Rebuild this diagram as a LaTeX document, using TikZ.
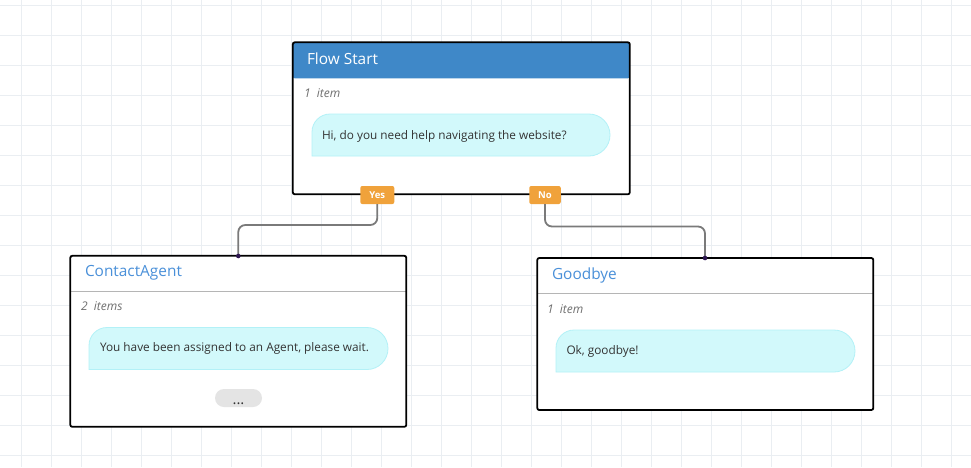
\documentclass[tikz,border=0pt]{standalone}
\usepackage{fontspec}
\setmainfont{Open Sans}
\definecolor{gridc}{HTML}{EAEEF2}
\definecolor{hdr}{HTML}{3F88C8}
\definecolor{ttl}{HTML}{4A90D9}
\definecolor{bubfill}{HTML}{D2F9FB}
\definecolor{bubline}{HTML}{B3F1F7}
\definecolor{tagc}{HTML}{F0A23B}
\definecolor{connc}{HTML}{7A7A7A}
\definecolor{sepc}{HTML}{B5B5B5}
\definecolor{itemc}{HTML}{707070}
\definecolor{txtc}{HTML}{333333}
\definecolor{pillc}{HTML}{E4E4E4}
\definecolor{dotc}{HTML}{2D1650}
\begin{document}
\begin{tikzpicture}[x=1pt,y=-1pt,
  gridline/.style={draw=gridc, line width=0.8pt},
  box/.style={draw=black, line width=1.8pt, rounded corners=2pt, fill=white, inner sep=0pt, outer sep=0pt},
  hdrbox/.style={box, path picture={\fill[hdr] (path picture bounding box.north west) rectangle ([yshift=-36pt]path picture bounding box.north east);}},
  sepbox/.style={box, path picture={\draw[sepc, line width=1.2pt] ([yshift=-35.7pt]path picture bounding box.north west) -- ([yshift=-35.7pt]path picture bounding box.north east);}},
  bubnode/.style={inner sep=0pt, outer sep=0pt, minimum height=42pt},
  bubble/.style={fill=bubfill, draw=bubline, line width=0.8pt},
  tag/.style={fill=tagc, rounded corners=2pt, inner sep=0pt, outer sep=0pt, minimum width=34pt, minimum height=18pt, text=white, font=\bfseries\fontsize{9.5}{10}\selectfont},
  conn/.style={draw=connc, line width=1.8pt, rounded corners=7pt},
  endpt/.style={fill=dotc},
  lbl/.style={anchor=base west, inner sep=0pt, outer sep=0pt},
  titlew/.style={lbl, text=white, font=\fontsize{15.4}{17}\selectfont},
  titleb/.style={lbl, text=ttl, font=\fontsize{15.4}{17}\selectfont},
  item/.style={lbl, text=itemc, font=\itshape\fontsize{12}{14}\selectfont},
  msg/.style={lbl, text=txtc, font=\fontsize{11.8}{14}\selectfont},
  pill/.style={fill=pillc, rounded corners=9pt, inner sep=0pt, minimum width=47pt, minimum height=18pt}
]
\useasboundingbox (0,0) rectangle (971,467);
\fill[white] (0,0) rectangle (971,467);
\foreach \x in {21,51,...,951} \draw[gridline] (\x,0) -- (\x,467);
\foreach \y in {5,35,...,455} \draw[gridline] (0,\y) -- (971,\y);

% boxes
\node[hdrbox, minimum width=337pt, minimum height=152pt] (start) at (461.3,118.3) {};
\node[sepbox, minimum width=336pt, minimum height=171pt] (ca) at (238.3,341.3) {};
\node[sepbox, minimum width=336pt, minimum height=152pt] (gb) at (705.3,334) {};

% titles
\node[titlew] (t1) at (307,64) {Flow Start};
\node[titleb] (t2) at (85,276.5) {ContactAgent};
\node[titleb] (t3) at (552,279.5) {Goodbye};

% item counts
\node[item] (i1) at (304,97) {1\ \ item};
\node[item] (i2) at (81,310.5) {2\ \ items};
\node[item] (i3) at (547,313) {1\ \ item};

% bubbles
\node[bubnode, minimum width=298pt] (b1) at (461,135) {};
\node[bubnode, minimum width=299pt] (b2) at (238.5,348.5) {};
\node[bubnode, minimum width=299pt] (b3) at (705.5,351) {};
\foreach \b in {b1,b2,b3}{
  \draw[bubble] (\b.south west) -- ([yshift=-18pt]\b.north west) arc[start angle=180,end angle=90,radius=18pt] -- ([xshift=-21pt]\b.north east) arc[start angle=90,end angle=-90,radius=21pt] -- cycle;
}
\node[msg] (m1) at (322,139.5) {Hi, do you need help navigating the website?};
\node[msg] (m2) at (100,351.5) {You have been assigned to an Agent, please wait.};
\node[msg] (m3) at (566.5,354) {Ok, goodbye!};

% more pill
\node[pill] (more) at (238.5,398) {};
\node[text=txtc, font=\fontsize{15}{15}\selectfont, inner sep=0pt, anchor=base] (dots) at (238.5,404.5) {...};

% tags
\node[tag] (yes) at (377.3,195) {Yes};
\node[tag, minimum width=31.5pt] (no) at (545,195) {No};

% connectors
\coordinate (cadot) at (238.3,256);
\coordinate (gbdot) at (705,258);
\draw[conn] (yes.south) -- ++(0,21) -| (cadot);
\draw[conn] (no.south) -- ++(0,22.5) -| (gbdot);
\fill[endpt] (cadot) circle[radius=2.3pt];
\fill[endpt] (gbdot) circle[radius=2.3pt];
\end{tikzpicture}
\end{document}
